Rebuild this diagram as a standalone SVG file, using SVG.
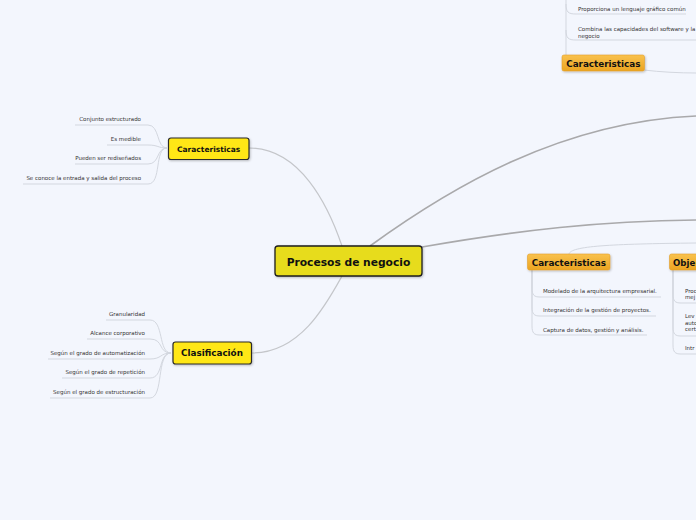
<svg xmlns="http://www.w3.org/2000/svg" width="696" height="520" viewBox="0 0 696 520">
<defs>
<linearGradient id="og" x1="0" y1="0" x2="0" y2="1">
<stop offset="0" stop-color="#f9c24e"/>
<stop offset="1" stop-color="#eba421"/>
</linearGradient>
<filter id="sh" x="-10%" y="-20%" width="130%" height="160%">
<feDropShadow dx="0.8" dy="1" stdDeviation="0.8" flood-color="#000" flood-opacity="0.25"/>
</filter>
</defs>
<style>
.main{fill:none;stroke:#a9a9ab;stroke-width:1.6}
.sub{fill:none;stroke:#c4c6ca;stroke-width:1.2}
.leaf{fill:none;stroke:#d3d7df;stroke-width:1}
.ynode{fill:#ffe714;stroke:#2a2a2a;stroke-width:1.2}
.cnode{fill:#e7dc1e;stroke:#1e1e1e;stroke-width:1.3}
.onode{fill:url(#og);stroke:#e2a02a;stroke-width:0.6}
.t{font-family:"DejaVu Sans",Verdana,sans-serif;font-size:5.5px;fill:#333}
.b{font-family:"DejaVu Sans",Verdana,sans-serif;font-weight:bold;fill:#111}
</style>
<rect width="696" height="520" fill="#f3f6fd"/>

<g id="connectors">
<path class="sub" d="M249,148 C300,148 328,205 342,246"/>
<path class="sub" d="M252,353 C300,353 326,305 342,276"/>
<path class="main" d="M370,246 C450,188 560,122 696,116"/>
<path class="main" d="M422,247 C520,230 600,221 696,220"/>
<path class="leaf" d="M569,254 C571,246 610,244 696,243"/>
<path class="leaf" d="M644,70 C660,72 680,73 696,73"/>
<path class="leaf" d="M167,148 C156,148 160,125 148,125 H75"/>
<path class="leaf" d="M167,148 C158,148 158,145 148,145 H107"/>
<path class="leaf" d="M167,148 C156,148 160,164 148,164 H75"/>
<path class="leaf" d="M167,148 C154,148 162,184 148,184 H23"/>
<path class="leaf" d="M171,353 C158,353 164,320 150,320 H106"/>
<path class="leaf" d="M171,353 C158,353 164,339 150,339 H87"/>
<path class="leaf" d="M171,353 C160,353 162,359 150,359 H48"/>
<path class="leaf" d="M171,353 C158,353 164,378 150,378 H62"/>
<path class="leaf" d="M171,353 C156,353 164,398 150,398 H50"/>
<path class="leaf" d="M566,55 V0"/>
<path class="leaf" d="M566,4 C566,12 568,14 576,14 H686"/>
<path class="leaf" d="M566,30 C566,38 568,40 576,40 H696"/>
<path class="leaf" d="M532,270 V288 C532,295 534,297 540,297 H661"/>
<path class="leaf" d="M532,270 V307 C532,314 534,316 540,316 H656"/>
<path class="leaf" d="M532,270 V326 C532,333 534,335 540,335 H647"/>
<path class="leaf" d="M673,270 V294 C673,301 675,303 681,303 H696"/>
<path class="leaf" d="M673,270 V327 C673,334 675,336 681,336 H696"/>
<path class="leaf" d="M673,270 V345 C673,352 675,354 681,354 H696"/>
</g>

<g id="central">
<rect class="cnode" x="275" y="246" width="147" height="30" rx="3" filter="url(#sh)"/>
<text class="b" x="348.5" y="265.5" font-size="10.7" text-anchor="middle">Procesos de negocio</text>
</g>

<g id="caracteristicas-left">
<rect class="ynode" x="168.5" y="138" width="80.5" height="21.5" rx="2.5" filter="url(#sh)"/>
<text class="b" x="208.7" y="151.5" font-size="7.5" text-anchor="middle">Caracteristicas</text>
</g>
<g id="c1"><text class="t" x="141" y="121" text-anchor="end">Conjunto estructurado</text></g>
<g id="c2"><text class="t" x="141" y="141" text-anchor="end">Es medible</text></g>
<g id="c3"><text class="t" x="141" y="160" text-anchor="end">Pueden ser rediseñados</text></g>
<g id="c4"><text class="t" x="141" y="180" text-anchor="end">Se conoce la entrada y salida del proceso</text></g>

<g id="clasificacion">
<rect class="ynode" x="173" y="342" width="78.5" height="22" rx="2.5" filter="url(#sh)"/>
<text class="b" x="212" y="356" font-size="8.8" text-anchor="middle">Clasificación</text>
</g>
<g id="k1"><text class="t" x="145" y="316" text-anchor="end">Granularidad</text></g>
<g id="k2"><text class="t" x="145" y="335" text-anchor="end">Alcance corporativo</text></g>
<g id="k3"><text class="t" x="145" y="355" text-anchor="end">Según el grado de automatización</text></g>
<g id="k4"><text class="t" x="145" y="374" text-anchor="end">Según el grado de repetición</text></g>
<g id="k5"><text class="t" x="145" y="394" text-anchor="end">Según el grado de estructuración</text></g>

<g id="caracteristicas-top">
<rect class="onode" x="562" y="55" width="82.5" height="16" rx="2" filter="url(#sh)"/>
<text class="b" x="603.3" y="67" font-size="8.8" text-anchor="middle">Caracteristicas</text>
</g>
<g id="t1"><text class="t" x="578" y="11">Proporciona un lenguaje gráfico común</text></g>
<g id="t2"><text class="t" x="578" y="31">Combina las capacidades del software y la</text><text class="t" x="578" y="37.5">negocio</text></g>

<g id="caracteristicas-bottom">
<rect class="onode" x="527.5" y="254" width="82.5" height="16" rx="2" filter="url(#sh)"/>
<text class="b" x="568.8" y="266" font-size="8.8" text-anchor="middle">Caracteristicas</text>
</g>
<g id="b1"><text class="t" x="543" y="293">Modelado de la arquitectura empresarial.</text></g>
<g id="b2"><text class="t" x="543" y="312">Integración de la gestión de proyectos.</text></g>
<g id="b3"><text class="t" x="543" y="332">Captura de datos, gestión y análisis.</text></g>

<g id="objetivos">
<rect class="onode" x="669.5" y="254" width="40" height="16" rx="2" filter="url(#sh)"/>
<text class="b" x="673" y="266" font-size="8.6">Obje</text>
</g>
<g id="o1"><text class="t" x="685" y="293">Proc</text><text class="t" x="685" y="299">mej</text></g>
<g id="o2"><text class="t" x="685" y="318">Lev</text><text class="t" x="685" y="324.5">auto</text><text class="t" x="685" y="331">cert</text></g>
<g id="o3"><text class="t" x="685" y="350">Intr</text></g>
</svg>
